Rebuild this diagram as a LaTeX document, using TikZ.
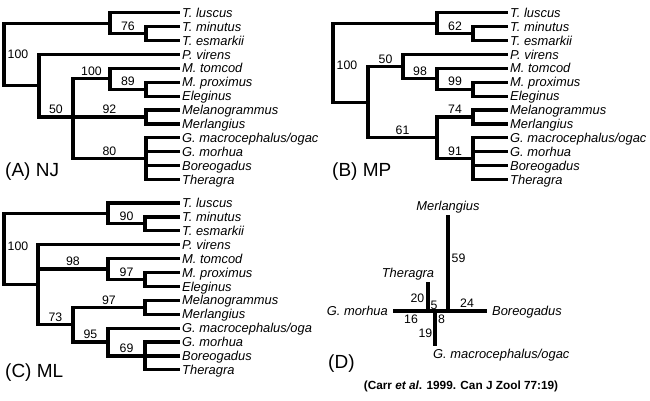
\documentclass[tikz,border=0pt]{standalone}
\usepackage{fontspec}
\setmainfont{Liberation Sans}
\begin{document}
\begin{tikzpicture}[x=1pt, y=-1pt,
  branch/.style={line width=3.2pt},
  taxon/.style={anchor=west, inner sep=2pt, text height=9.2pt, text depth=0pt, font=\fontsize{12.9}{14}\selectfont\itshape},
  bs/.style={anchor=south, inner sep=1.5pt, font=\fontsize{12.3}{14}\selectfont},
  dlab/.style={inner sep=0.5pt, font=\fontsize{12.3}{14}\selectfont},
  panel/.style={anchor=base west, inner sep=0pt, font=\fontsize{19}{22}\selectfont}]
\useasboundingbox (0,0) rectangle (650,400);
\fill[white] (0,0) rectangle (650,400);

\node[taxon] (aTlu) at (180,12.7) {T. luscus};
\node[taxon] (aTmi) at (180,26.6) {T. minutus};
\node[taxon] (aTes) at (180,40.5) {T. esmarkii};
\node[taxon] (aPvi) at (180,54.4) {P. virens};
\node[taxon] (aMto) at (180,68.3) {M. tomcod};
\node[taxon] (aMpr) at (180,82.2) {M. proximus};
\node[taxon] (aEle) at (180,96.1) {Eleginus};
\node[taxon] (aMel) at (180,110.0) {Melanogrammus};
\node[taxon] (aMer) at (180,123.9) {Merlangius};
\node[taxon] (aGma) at (180,137.8) {G. macrocephalus/ogac};
\node[taxon] (aGmo) at (180,151.7) {G. morhua};
\node[taxon] (aBor) at (180,165.6) {Boreogadus};
\node[taxon] (aThe) at (180,179.5) {Theragra};
\coordinate (a0) at (4,54.4);
\coordinate (a2) at (110,23.1);
\coordinate (a1) at (146,33.55);
\coordinate (a8) at (39,85.7);
\coordinate (a7) at (73,116.95);
\coordinate (a4) at (110,78.7);
\coordinate (a3) at (146,89.15);
\coordinate (a5) at (146,116.95);
\coordinate (a6) at (146,158.65);
\draw[branch] (a0) |- (a2);
\draw[branch] (a0) |- (a8);
\draw[branch] (a2) |- (aTlu.west);
\draw[branch] (a2) |- node[bs, pos=0.75] (sA76) {76} (a1);
\draw[branch] (a1) |- (aTmi.west);
\draw[branch] (a1) |- (aTes.west);
\draw[branch] (a8) |- (aPvi.west);
\draw[branch] (a8) |- node[bs, pos=0.75] (sA50) {50} (a7);
\draw[branch] (a7) |- node[bs, pos=0.75] (sA100b) {100} (a4);
\draw[branch] (a4) |- (aMto.west);
\draw[branch] (a4) |- node[bs, pos=0.75] (sA89) {89} (a3);
\draw[branch] (a3) |- (aMpr.west);
\draw[branch] (a3) |- (aEle.west);
\draw[branch] (a7) |- node[bs, pos=0.75] (sA92) {92} (a5);
\draw[branch] (a5) |- (aMel.west);
\draw[branch] (a5) |- (aMer.west);
\draw[branch] (a7) |- node[bs, pos=0.75] (sA80) {80} (a6);
\draw[branch] (a6) |- (aGma.west);
\draw[branch] (a6) |- (aGmo.west);
\draw[branch] (a6) |- (aBor.west);
\draw[branch] (a6) |- (aThe.west);
\node[bs, anchor=west] (sA100) at (6,54.4) {100};
\node[panel] (pA) at (5,176) {(A) NJ};

\node[taxon] (bTlu) at (508,12.7) {T. luscus};
\node[taxon] (bTmi) at (508,26.6) {T. minutus};
\node[taxon] (bTes) at (508,40.5) {T. esmarkii};
\node[taxon] (bPvi) at (508,54.4) {P. virens};
\node[taxon] (bMto) at (508,68.3) {M. tomcod};
\node[taxon] (bMpr) at (508,82.2) {M. proximus};
\node[taxon] (bEle) at (508,96.1) {Eleginus};
\node[taxon] (bMel) at (508,110.0) {Melanogrammus};
\node[taxon] (bMer) at (508,123.9) {Merlangius};
\node[taxon] (bGma) at (508,137.8) {G. macrocephalus/ogac};
\node[taxon] (bGmo) at (508,151.7) {G. morhua};
\node[taxon] (bBor) at (508,165.6) {Boreogadus};
\node[taxon] (bThe) at (508,179.5) {Theragra};
\coordinate (b0) at (333,62.65);
\coordinate (b2) at (437,23.1);
\coordinate (b1) at (473,33.55);
\coordinate (b9) at (368,102.2);
\coordinate (b5) at (403,66.55);
\coordinate (b4) at (437,78.7);
\coordinate (b3) at (473,89.15);
\coordinate (b8) at (437,137.8);
\coordinate (b6) at (473,116.95);
\coordinate (b7) at (473,158.65);
\draw[branch] (b0) |- (b2);
\draw[branch] (b0) |- (b9);
\draw[branch] (b2) |- (bTlu.west);
\draw[branch] (b2) |- node[bs, pos=0.75] (sB62) {62} (b1);
\draw[branch] (b1) |- (bTmi.west);
\draw[branch] (b1) |- (bTes.west);
\draw[branch] (b9) |- node[bs, pos=0.75] (sB50) {50} (b5);
\draw[branch] (b5) |- (bPvi.west);
\draw[branch] (b5) |- node[bs, pos=0.75] (sB98) {98} (b4);
\draw[branch] (b4) |- (bMto.west);
\draw[branch] (b4) |- node[bs, pos=0.75] (sB99) {99} (b3);
\draw[branch] (b3) |- (bMpr.west);
\draw[branch] (b3) |- (bEle.west);
\draw[branch] (b9) |- node[bs, pos=0.75] (sB61) {61} (b8);
\draw[branch] (b8) |- node[bs, pos=0.75] (sB74) {74} (b6);
\draw[branch] (b6) |- (bMel.west);
\draw[branch] (b6) |- (bMer.west);
\draw[branch] (b8) |- node[bs, pos=0.75] (sB91) {91} (b7);
\draw[branch] (b7) |- (bGma.west);
\draw[branch] (b7) |- (bGmo.west);
\draw[branch] (b7) |- (bBor.west);
\draw[branch] (b7) |- (bThe.west);
\node[bs, anchor=west] (sB100) at (335,65) {100};
\node[panel] (pB) at (332,176) {(B) MP};

\node[taxon] (cTlu) at (180,203.0) {T. luscus};
\node[taxon] (cTmi) at (180,216.9) {T. minutus};
\node[taxon] (cTes) at (180,230.8) {T. esmarkii};
\node[taxon] (cPvi) at (180,244.7) {P. virens};
\node[taxon] (cMto) at (180,258.6) {M. tomcod};
\node[taxon] (cMpr) at (180,272.5) {M. proximus};
\node[taxon] (cEle) at (180,286.4) {Eleginus};
\node[taxon] (cMel) at (180,300.3) {Melanogrammus};
\node[taxon] (cMer) at (180,314.2) {Merlangius};
\node[taxon] (cGma) at (180,328.1) {G. macrocephalus/oga};
\node[taxon] (cGmo) at (180,342.0) {G. morhua};
\node[taxon] (cBor) at (180,355.9) {Boreogadus};
\node[taxon] (cThe) at (180,369.8) {Theragra};
\coordinate (c0) at (4,249.0);
\coordinate (c2) at (108,213.4);
\coordinate (c1) at (145,223.85);
\coordinate (c9) at (38,284.65);
\coordinate (c4) at (108,269.0);
\coordinate (c3) at (145,279.45);
\coordinate (c8) at (73,324.6);
\coordinate (c5) at (145,307.25);
\coordinate (c7) at (108,342.0);
\coordinate (c6) at (145,355.9);
\draw[branch] (c0) |- (c2);
\draw[branch] (c0) |- (c9);
\draw[branch] (c2) |- (cTlu.west);
\draw[branch] (c2) |- node[bs, pos=0.75] (sC90) {90} (c1);
\draw[branch] (c1) |- (cTmi.west);
\draw[branch] (c1) |- (cTes.west);
\draw[branch] (c9) |- (cPvi.west);
\draw[branch] (c9) |- node[bs, pos=0.75] (sC98) {98} (c4);
\draw[branch] (c4) |- (cMto.west);
\draw[branch] (c4) |- node[bs, pos=0.75] (sC97a) {97} (c3);
\draw[branch] (c3) |- (cMpr.west);
\draw[branch] (c3) |- (cEle.west);
\draw[branch] (c9) |- node[bs, pos=0.75] (sC73) {73} (c8);
\draw[branch] (c8) |- node[bs, pos=0.75] (sC97b) {97} (c5);
\draw[branch] (c5) |- (cMel.west);
\draw[branch] (c5) |- (cMer.west);
\draw[branch] (c8) |- node[bs, pos=0.75] (sC95) {95} (c7);
\draw[branch] (c7) |- (cGma.west);
\draw[branch] (c7) |- node[bs, pos=0.75] (sC69) {69} (c6);
\draw[branch] (c6) |- (cGmo.west);
\draw[branch] (c6) |- (cBor.west);
\draw[branch] (c6) |- (cThe.west);
\node[bs, anchor=west] (sC100) at (6,246) {100};
\node[panel] (pC) at (5,377) {(C) ML};

\coordinate (dW) at (393,311);
\coordinate (dT) at (428,311);
\coordinate (dG) at (435,311);
\coordinate (dM) at (448,311);
\coordinate (dE) at (487,311);
\coordinate (dTt) at (428,282);
\coordinate (dMt) at (448,215);
\coordinate (dGb) at (435,346);
\draw[branch] (dW) -- (dT) -- (dG) -- (dM) -- (dE);
\draw[branch] (dT) -- (dTt);
\draw[branch] (dM) -- (dMt);
\draw[branch] (dG) -- (dGb);
\node[taxon, anchor=base] (dMer) at (448,210) {Merlangius};
\node[taxon, anchor=base] (dThe) at (408,277) {Theragra};
\node[taxon, anchor=base east] (dGmo) at (390,315) {G. morhua};
\node[taxon, anchor=base west] (dBor) at (490,315) {Boreogadus};
\node[taxon, anchor=base west] (dGma) at (431,358) {G. macrocephalus/ogac};
\node[dlab, anchor=base west] (l59) at (451,262) {59};
\node[dlab, anchor=base east] (l20) at (425,302) {20};
\node[dlab, anchor=base west] (l5) at (430,309) {5};
\node[dlab, anchor=base] (l24) at (467,307) {24};
\node[dlab, anchor=base] (l16) at (411,323) {16};
\node[dlab, anchor=base] (l8) at (441.5,323) {8};
\node[dlab, anchor=base east] (l19) at (433,337) {19};
\node[panel] (pD) at (328,368) {(D)};
\node[anchor=base, inner sep=0pt, font=\fontsize{11.8}{14}\selectfont\bfseries] (cite) at (461,389) {(Carr \textit{et al}. 1999. Can J Zool 77:19)};
\end{tikzpicture}
\end{document}
